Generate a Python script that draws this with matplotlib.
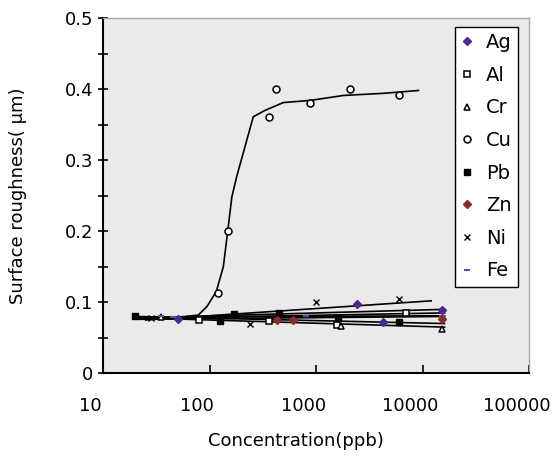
import matplotlib
matplotlib.use("Agg")
import matplotlib.pyplot as plt
import matplotlib.transforms as mtransforms

# ---------------- data ----------------
series_names = ["Ag", "Al", "Cr", "Cu", "Pb", "Zn", "Ni", "Fe"]

ag_x = [50, 2400, 4200, 15000]
ag_y = [0.077, 0.098, 0.072, 0.089]
al_x = [80, 360, 1550, 7000]
al_y = [0.075, 0.074, 0.068, 0.085]
cr_x = [35, 1700, 15000]
cr_y = [0.079, 0.066, 0.063]
cu_x = [120, 147, 360, 420, 880, 2070, 6000]
cu_y = [0.1125, 0.200, 0.360, 0.400, 0.381, 0.400, 0.391]
pb_x = [20, 125, 170, 450, 1600, 6000]
pb_y = [0.081, 0.073, 0.083, 0.085, 0.078, 0.072]
zn_x = [430, 600, 15000]
zn_y = [0.075, 0.075, 0.077]
ni_x = [28, 240, 1000, 6000]
ni_y = [0.078, 0.070, 0.100, 0.105]
fe_x = [35, 45, 800, 15000]
fe_y = [0.080, 0.079, 0.080, 0.081]

# Cu fitted curve
cu_curve_x = [60, 78, 94, 115, 134, 149, 161, 179, 214, 256, 330, 490, 873, 1800, 4260, 9100]
cu_curve_y = [0.080, 0.082, 0.094, 0.115, 0.150, 0.206, 0.248, 0.277, 0.319, 0.361,
              0.370, 0.381, 0.384, 0.391, 0.394, 0.398]

# trend lines of the flat series (start / end values)
trend_names = ["Ag", "Al", "Cr", "Pb", "Zn", "Ni", "Fe"]
trend_x0 = [22, 22, 22, 20, 22, 25, 22]
trend_x1 = [16000, 16000, 16000, 16000, 16000, 12000, 16000]
trend_y0 = [0.078, 0.077, 0.078, 0.080, 0.076, 0.075, 0.079]
trend_y1 = [0.090, 0.085, 0.065, 0.070, 0.080, 0.102, 0.081]

x_ticks = [10, 100, 1000, 10000, 100000]
x_tick_labels = ["10", "100", "1000", "10000", "100000"]
y_ticks = [0, 0.1, 0.2, 0.3, 0.4, 0.5]
y_tick_labels = ["0", "0.1", "0.2", "0.3", "0.4", "0.5"]
y_minor = [0.05, 0.15, 0.25, 0.35, 0.45]

# ---------------- figure ----------------
W, H = 557, 457
fig = plt.figure(figsize=(W / 100, H / 100), dpi=100)
left, right, bottom, top = 103.3, 529.3, 373.3, 18.0
ax = fig.add_axes([left / W, 1 - bottom / H, (right - left) / W, (bottom - top) / H])
ax.set_facecolor("#ECE9EA")

purple = "#4B2A8A"
darkred = "#8B2A2A"

# trend lines
for x0, x1, y0, y1 in zip(trend_x0, trend_x1, trend_y0, trend_y1):
    ax.plot([x0, x1], [y0, y1], color="black", lw=1.2, zorder=2)
ax.plot(cu_curve_x, cu_curve_y, color="black", lw=1.2, zorder=2)

ax.plot(ag_x, ag_y, ls="none", marker="D", ms=4.5, color=purple, label="Ag", zorder=4)
ax.plot(al_x, al_y, ls="none", marker="s", ms=4.5, mfc="white", mec="black", mew=1.1, label="Al", zorder=3)
ax.plot(cr_x, cr_y, ls="none", marker="^", ms=5, mfc="white", mec="black", mew=1.1, label="Cr", zorder=3)
ax.plot(cu_x, cu_y, ls="none", marker="o", ms=5, mfc="white", mec="black", mew=1.1, label="Cu", zorder=3)
ax.plot(pb_x, pb_y, ls="none", marker="s", ms=4.5, color="black", label="Pb", zorder=3)
ax.plot(zn_x, zn_y, ls="none", marker="D", ms=4.5, color=darkred, label="Zn", zorder=4)
ax.plot(ni_x, ni_y, ls="none", marker="x", ms=4.5, mew=1.0, color="black", label="Ni", zorder=3)
ax.plot(fe_x, fe_y, ls="none", marker="_", ms=5, mew=1.5, color="#6A4A9A", label="Fe", zorder=3)

ax.set_xscale("log")
ax.set_xlim(10, 100000)
ax.set_ylim(0, 0.5)
ax.set_xticks(x_ticks)
ax.set_xticklabels(x_tick_labels)
ax.xaxis.set_minor_locator(matplotlib.ticker.NullLocator())
ax.set_yticks(y_ticks)
ax.set_yticklabels(y_tick_labels)
ax.set_yticks(y_minor, minor=True)

ax.tick_params(axis="x", which="major", direction="in", length=6, width=1.2,
               labelsize=13, pad=17, colors="black")
ax.tick_params(axis="y", which="both", direction="inout", length=7, width=1.2,
               labelsize=13, pad=4)
ax.tick_params(axis="y", which="minor", labelleft=False)

for lab in ax.get_xticklabels():
    lab.set_transform(lab.get_transform() + mtransforms.ScaledTranslation(-9 / 72, 0, fig.dpi_scale_trans))

for s in ["left", "bottom"]:
    ax.spines[s].set_color("black")
    ax.spines[s].set_linewidth(1.5)
for s in ["top", "right"]:
    ax.spines[s].set_color("#A8A8A8")
    ax.spines[s].set_linewidth(1.0)

ax.set_xlabel("Concentration(ppb)", fontsize=13)
ax.xaxis.set_label_coords(0.452, -0.165)
ax.set_ylabel("Surface roughness( \u03bcm)", fontsize=13)
ax.yaxis.set_label_coords(-0.179, 0.5)

leg = ax.legend(loc="upper right", bbox_to_anchor=(0.9735, 0.9747), borderaxespad=0,
                fontsize=14, handlelength=0.55, handletextpad=0.7, labelspacing=0.7,
                borderpad=0.32, fancybox=False, framealpha=1, edgecolor="black")
leg.get_frame().set_linewidth(1.0)

fig.savefig("out.png", dpi=100, facecolor="white")
